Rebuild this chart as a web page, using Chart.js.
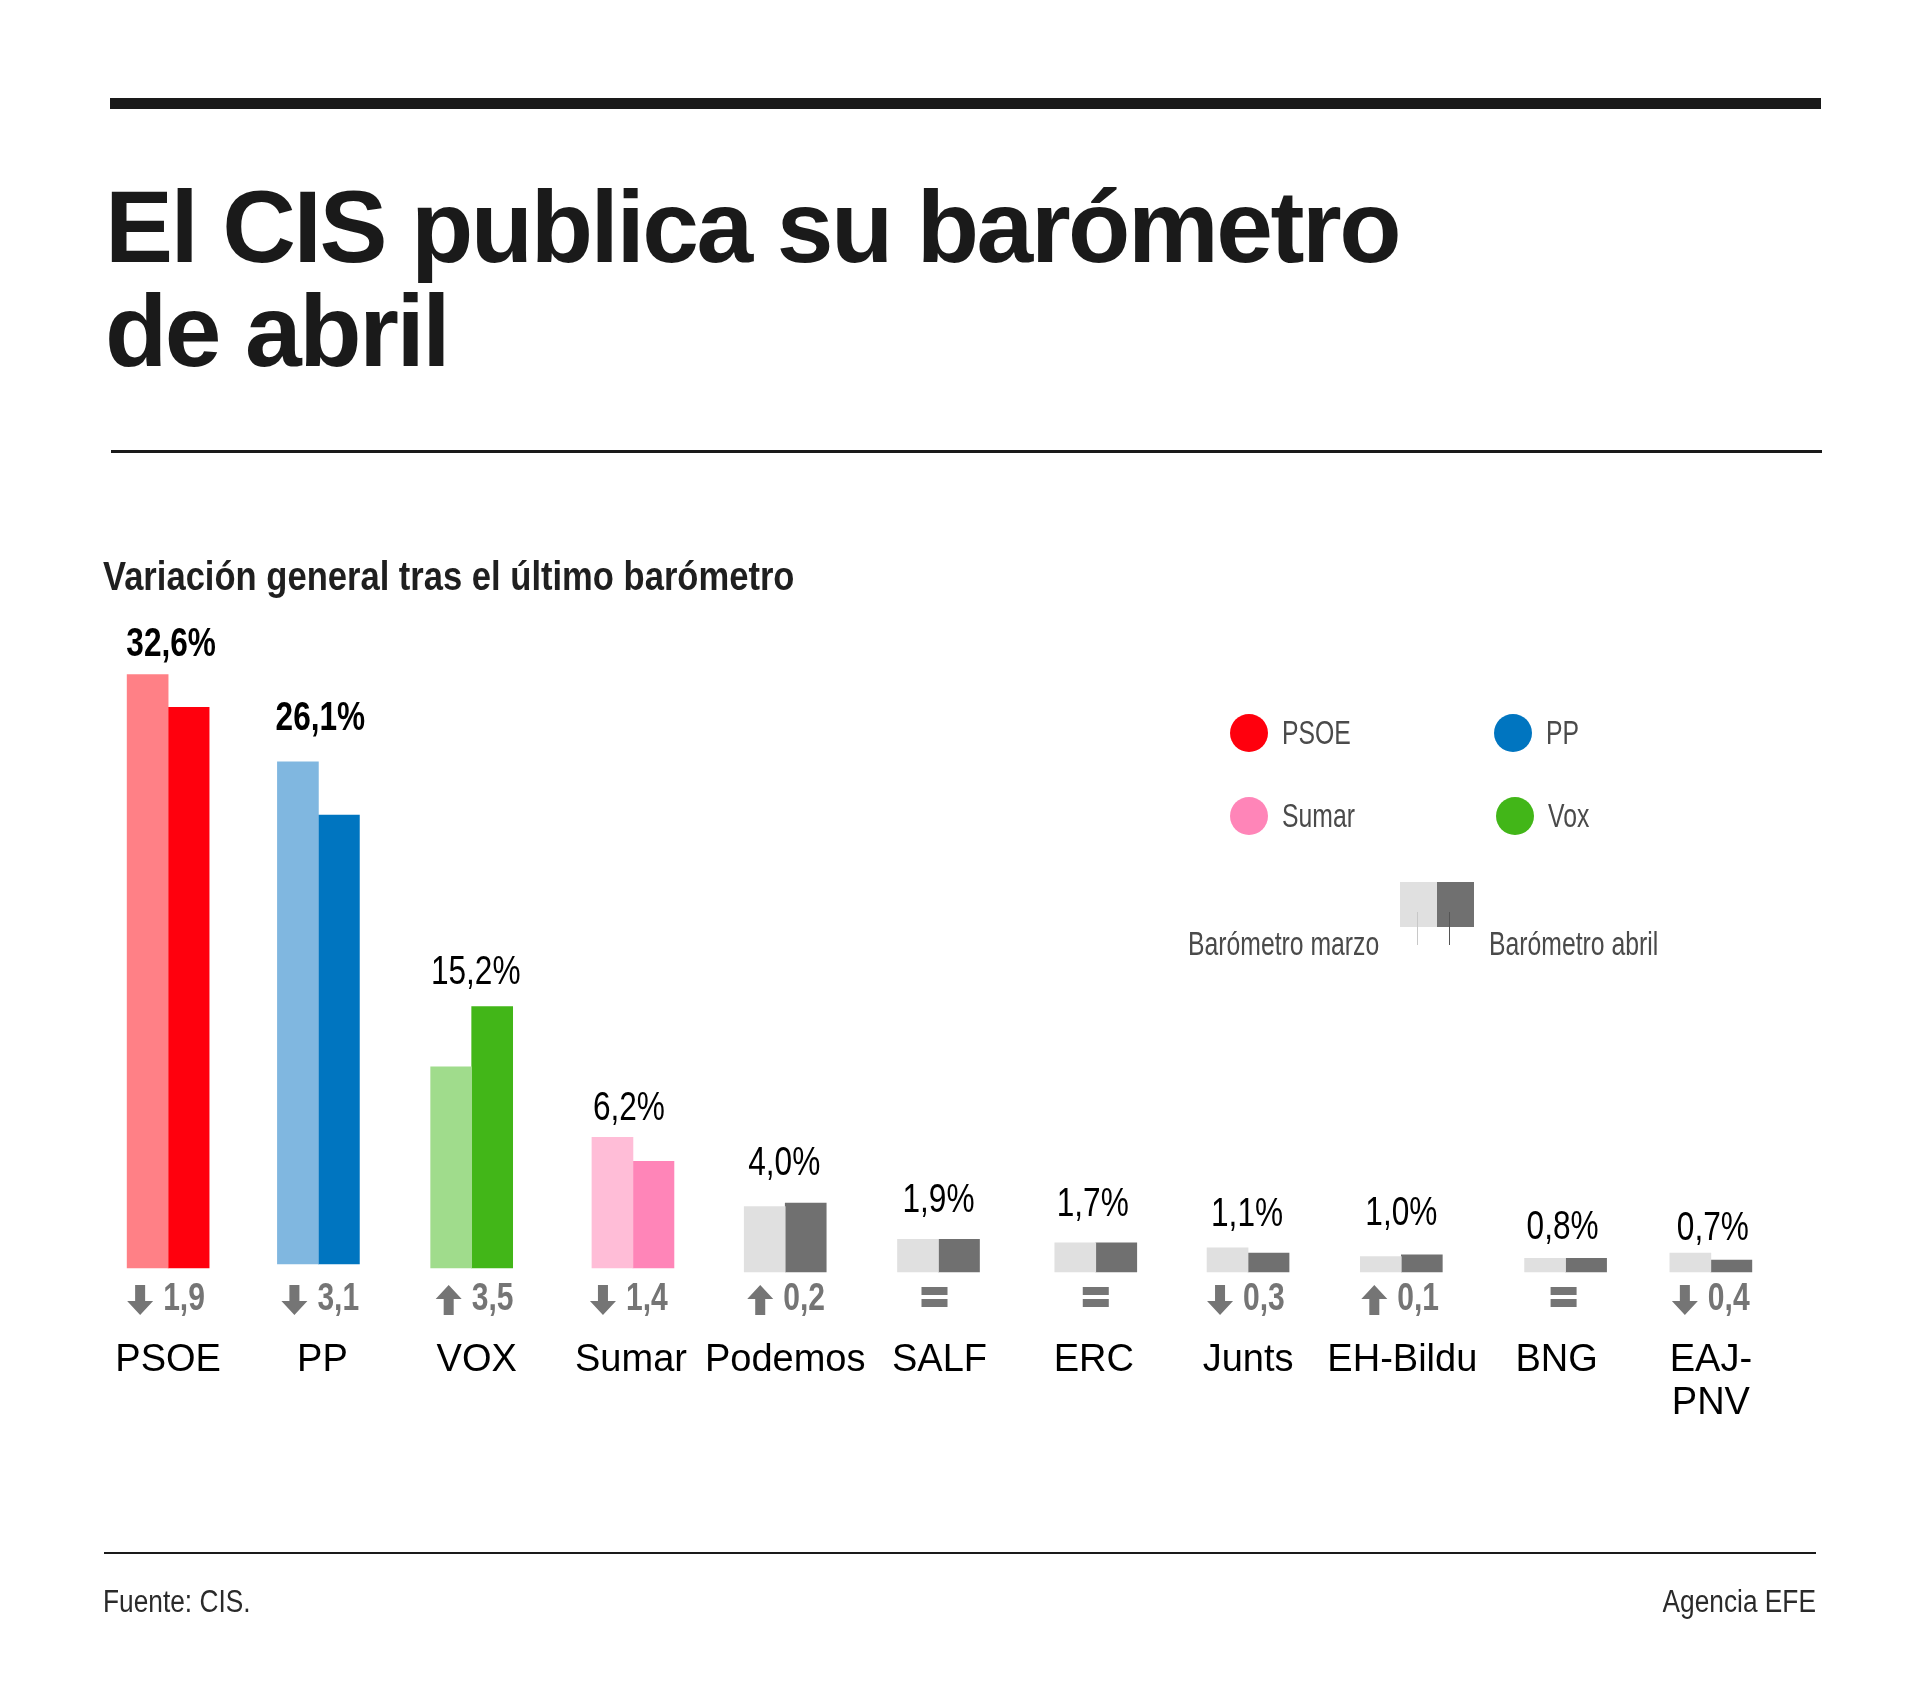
<!DOCTYPE html>
<html lang="es">
<head>
<meta charset="utf-8">
<title>El CIS publica su barómetro de abril</title>
<script src="https://cdn.jsdelivr.net/npm/chart.js@4"></script>
<style>
  html, body { margin: 0; padding: 0; background: #fff; }
  #page { position: relative; width: 1920px; height: 1697px; overflow: hidden; font-family: "Liberation Sans", Arial, sans-serif; }
  #myChart { position: absolute; left: 0; top: 0; }
  .rule { position: absolute; background: #1a1a1a; }
  .txt { position: absolute; white-space: nowrap; transform-origin: left center; }
  #title { left: 105px; top: 175px; font-size: 102px; line-height: 104px; font-weight: bold; color: #1a1a1a; letter-spacing: -2.45px; }
  #sub { left: 103px; top: 552px; font-size: 41px; line-height: 48px; font-weight: bold; color: #1f1f1f; transform: scaleX(0.843); }
  .leg { font-size: 33px; line-height: 36px; color: #4a4a4a; transform: scaleX(0.75); }
  .dot { position: absolute; width: 38px; height: 38px; border-radius: 50%; }
  .foot { font-size: 31px; line-height: 36px; color: #2a2a2a; transform: scaleX(0.848); }
</style>
</head>
<body>
<div id="page">
  <canvas id="myChart" width="1920" height="1697"></canvas>
  <div class="rule" style="left:110px;top:98px;width:1711px;height:11px"></div>
  <div id="title" class="txt">El CIS publica su barómetro<br>de abril</div>
  <div class="rule" style="left:111px;top:450px;width:1711px;height:3px"></div>
  <div id="sub" class="txt">Variación general tras el último barómetro</div>
  <div id="legend"></div>
  <div class="rule" style="left:104px;top:1552px;width:1712px;height:2px"></div>
  <div class="txt foot" style="left:103px;top:1584px">Fuente: CIS.</div>
  <div class="txt foot" style="right:104px;top:1584px;transform-origin:right center">Agencia EFE</div>
</div>
<script>
// datos del barómetro
var partidos = ['PSOE', 'PP', 'VOX', 'Sumar', 'Podemos', 'SALF', 'ERC', 'Junts', 'EH-Bildu', 'BNG', ['EAJ-', 'PNV']];
var marzo = [34.5, 29.2, 11.7, 7.6, 3.8, 1.9, 1.7, 1.4, 0.9, 0.8, 1.1];
var abril = [32.6, 26.1, 15.2, 6.2, 4.0, 1.9, 1.7, 1.1, 1.0, 0.8, 0.7];
var variacion = [-1.9, -3.1, 3.5, -1.4, 0.2, 0, 0, -0.3, 0.1, 0, -0.4];

// colores
var coloresMarzo = ['#ff8086', '#80b7e0', '#a0dc8c', '#ffbdd7', '#e0e0e0', '#e0e0e0', '#e0e0e0', '#e0e0e0', '#e0e0e0', '#e0e0e0', '#e0e0e0'];
var coloresAbril = ['#ff000d', '#0075c0', '#42b618', '#ff85b8', '#707070', '#707070', '#707070', '#707070', '#707070', '#707070', '#707070'];

// el original está maquetado a mano: pequeños desplazamientos por categoría, en px
var ajusteBarraX = [0, -4, -5, 2, 0, -1, 2, 0, -1, 9, 0];
var ajusteBarraY = [0, -4, 0, 0, 4, 4, 4, 4, 4, 4, 4];
var ajusteEtiquetaX = [3, -2, -1, -2, -1, -1, -1, -1, -1, 6, 2];
var ajusteEtiquetaY = [0, 17, 4, -2, 5, 4, 4, -1, 7, -4, -10];
var ajusteFilaX = [0, 0, 0, 0, 3, -4, 3, 0, 0, 8, 2];

function coma(v) {
    return v.toFixed(1).replace('.', ',');
}

// leyenda en HTML
var leyenda = document.getElementById('legend');
function addDot(x, y, color, texto) {
    leyenda.insertAdjacentHTML('beforeend',
        '<div class="dot" style="left:' + x + 'px;top:' + y + 'px;background:' + color + '"></div>' +
        '<div class="txt leg" style="left:' + (x + 52) + 'px;top:' + (y + 1) + 'px">' + texto + '</div>');
}
addDot(1230, 714, '#ff000d', 'PSOE');
addDot(1494, 714, '#0075c0', 'PP');
addDot(1230, 797, '#ff85b8', 'Sumar');
addDot(1496, 797, '#42b618', 'Vox');
leyenda.insertAdjacentHTML('beforeend',
    '<div style="position:absolute;left:1400px;top:882px;width:37px;height:45px;background:#e0e0e0"></div>' +
    '<div style="position:absolute;left:1437px;top:882px;width:37px;height:45px;background:#707070"></div>' +
    '<div style="position:absolute;left:1417px;top:912px;width:1px;height:33px;background:#c8c8c8"></div>' +
    '<div style="position:absolute;left:1449px;top:912px;width:1px;height:33px;background:#555"></div>' +
    '<div class="txt leg" style="left:1188px;top:926px">Barómetro marzo</div>' +
    '<div class="txt leg" style="left:1489px;top:926px">Barómetro abril</div>');

// etiquetas de valor, fila de variación y desplazamiento de las barras
var etiquetas = {
    id: 'etiquetas',
    afterDatasetsUpdate: function (chart) {
        [0, 1].forEach(function (k) {
            chart.getDatasetMeta(k).data.forEach(function (barra, i) {
                barra.x += ajusteBarraX[i];
                barra.y += ajusteBarraY[i];
                barra.base += ajusteBarraY[i];
            });
        });
    },
    afterDatasetsDraw: function (chart) {
        var ctx = chart.ctx;
        var x = chart.scales.x;
        var y = chart.scales.y;
        var filaY = 1300;
        abril.forEach(function (valor, i) {
            var cx = x.getPixelForValue(i);
            var tope = y.getPixelForValue(Math.max(valor, marzo[i]));

            // valor de abril sobre las barras (texto estrechado)
            ctx.save();
            ctx.translate(cx + ajusteEtiquetaX[i], tope - 19 - ajusteEtiquetaY[i]);
            ctx.scale(0.79, 1);
            ctx.fillStyle = '#000';
            ctx.textAlign = 'center';
            ctx.textBaseline = 'alphabetic';
            ctx.font = (i < 2 ? 'bold ' : '') + '40px "Liberation Sans", sans-serif';
            ctx.fillText(coma(valor) + '%', 0, 0);
            ctx.restore();

            // variación
            ctx.save();
            ctx.fillStyle = '#757575';
            var fx = cx + ajusteFilaX[i];
            var d = variacion[i];
            if (d === 0) {
                ctx.fillRect(fx - 14, filaY - 13, 26, 8);
                ctx.fillRect(fx - 14, filaY - 1, 26, 8);
            } else {
                var ax = fx - 28;
                var s = d > 0 ? -1 : 1; // hacia arriba o hacia abajo
                ctx.beginPath();
                ctx.moveTo(ax - 5, filaY - 15 * s);
                ctx.lineTo(ax + 5, filaY - 15 * s);
                ctx.lineTo(ax + 5, filaY + 1 * s);
                ctx.lineTo(ax + 13, filaY + 1 * s);
                ctx.lineTo(ax, filaY + 15 * s);
                ctx.lineTo(ax - 13, filaY + 1 * s);
                ctx.lineTo(ax - 5, filaY + 1 * s);
                ctx.closePath();
                ctx.fill();
                ctx.translate(fx - 5, filaY);
                ctx.scale(0.79, 1);
                ctx.textAlign = 'left';
                ctx.textBaseline = 'middle';
                ctx.font = 'bold 38px "Liberation Sans", sans-serif';
                ctx.fillText(coma(Math.abs(d)), 0, 0);
            }
            ctx.restore();
        });
    }
};

var ctx = document.getElementById('myChart').getContext('2d');
var myChart = new Chart(ctx, {
    type: 'bar',
    data: {
        labels: partidos,
        datasets: [
            { label: 'Barómetro marzo', data: marzo, backgroundColor: coloresMarzo, barThickness: 41, clip: false },
            { label: 'Barómetro abril', data: abril, backgroundColor: coloresAbril, barThickness: 41, clip: false }
        ]
    },
    options: {
        responsive: false,
        animation: false,
        layout: { padding: { left: 91, right: 132, top: 580, bottom: 0 } },
        plugins: { legend: { display: false }, tooltip: { enabled: false } },
        scales: {
            x: {
                grid: { display: false },
                border: { display: false },
                afterFit: function (axis) { axis.height = 1697 - 1268; },
                ticks: {
                    padding: 63,
                    color: '#000',
                    maxRotation: 0,
                    autoSkip: false,
                    font: { family: '"Liberation Sans", sans-serif', size: 38, lineHeight: 1.13 }
                }
            },
            y: {
                display: false,
                min: 0,
                max: 40
            }
        }
    },
    plugins: [etiquetas]
});
</script>
</body>
</html>
